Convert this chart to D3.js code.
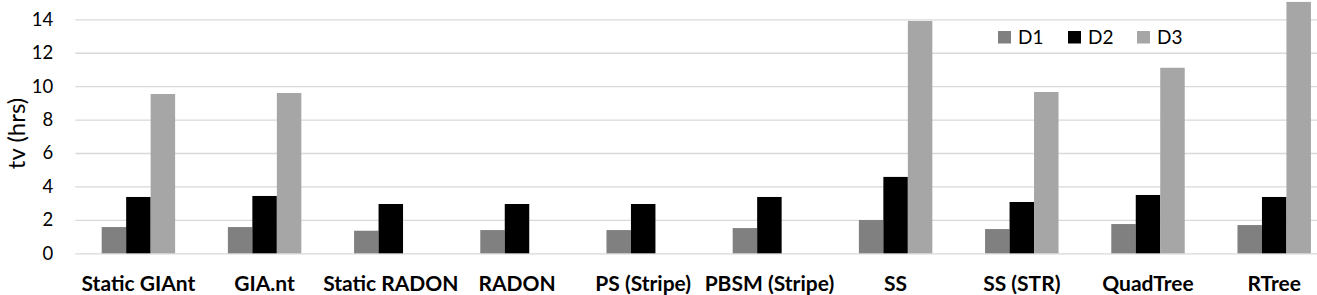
<!DOCTYPE html>
<html>
<head>
<meta charset="utf-8">
<script src="https://d3js.org/d3.v7.min.js"></script>
<style>
  html, body { margin: 0; padding: 0; background: #fff; }
  svg { display: block; font-family: Lato, "Open Sans", sans-serif; }
</style>
</head>
<body>
<svg id="chart" width="1317" height="295"></svg>
<script>
const categories = ["Static GIAnt", "GIA.nt", "Static RADON", "RADON", "PS (Stripe)", "PBSM (Stripe)", "SS", "SS (STR)", "QuadTree", "RTree"];
const seriesNames = ["D1", "D2", "D3"];
const d1 = [1.57, 1.57, 1.35, 1.39, 1.39, 1.51, 1.99, 1.45, 1.75, 1.69];
const d2 = [3.37, 3.43, 2.95, 2.95, 2.95, 3.37, 4.57, 3.07, 3.49, 3.37];
const d3v = [9.53, 9.59, null, null, null, null, 13.9, 9.65, 11.1, 15.04];
const yTicks = [0, 2, 4, 6, 8, 10, 12, 14];
const colors = ["#808080", "#000000", "#a6a6a6"];

const series = [d1, d2, d3v];
const svg = d3.select("#chart");

const x = d3.scaleBand().domain(categories).range([75.3, 1337.3]).padding(0);
const groupFrac = 0.582;
const xs = d3.scaleBand().domain(seriesNames)
  .range([0, x.bandwidth() * groupFrac]).padding(0);
const y = d3.scaleLinear().domain([0, 14]).range([253.3, 19.3]);

// gridlines
const yAxis = d3.axisLeft(y).tickValues(yTicks).tickSize(-(1337.3 - 75.3)).tickPadding(22);
const gAxis = svg.append("g").attr("transform", "translate(75.3,0)").call(yAxis);
gAxis.select(".domain").remove();
gAxis.selectAll(".tick line").attr("stroke", "#d9d9d9").attr("stroke-width", 1.3);
gAxis.selectAll(".tick text").attr("fill", "#000").style("font-size", "18.5px").style("font-family", "Lato");

// bars
const rows = categories.map((c, i) => ({ c, vals: series.map((s, k) => ({ k, name: seriesNames[k], v: s[i] })) }));
const groups = svg.append("g").selectAll("g").data(rows).join("g")
  .attr("transform", d => `translate(${x(d.c) + x.bandwidth() * (1 - groupFrac) / 2},0)`);
groups.selectAll("rect").data(d => d.vals.filter(v => v.v != null)).join("rect")
  .attr("x", d => xs(d.name))
  .attr("width", xs.bandwidth())
  .attr("y", d => y(d.v))
  .attr("height", d => y(0) - y(d.v))
  .attr("fill", d => colors[d.k]);

// x labels
svg.append("g").selectAll("text").data(categories).join("text")
  .attr("x", d => x(d) + x.bandwidth() / 2)
  .attr("y", 291)
  .attr("text-anchor", "middle")
  .style("font-size", "21px")
  .style("font-weight", "bold")
  .attr("fill", "#000")
  .text(d => d);

// y title
svg.append("text")
  .attr("transform", "translate(25,133.5) rotate(-90)")
  .attr("text-anchor", "middle")
  .style("font-size", "24px")
  .attr("fill", "#000")
  .text("tv (hrs)");

// legend
const legendX = [998, 1068, 1137];
const lg = svg.append("g").selectAll("g").data(seriesNames).join("g")
  .attr("transform", (d, i) => `translate(${legendX[i]},31)`);
lg.append("rect").attr("width", 13).attr("height", 12.5).attr("fill", (d, i) => colors[i]);
lg.append("text").attr("x", 20).attr("y", 12.5)
  .style("font-size", "19px").attr("fill", "#000").text(d => d);
</script>
</body>
</html>
